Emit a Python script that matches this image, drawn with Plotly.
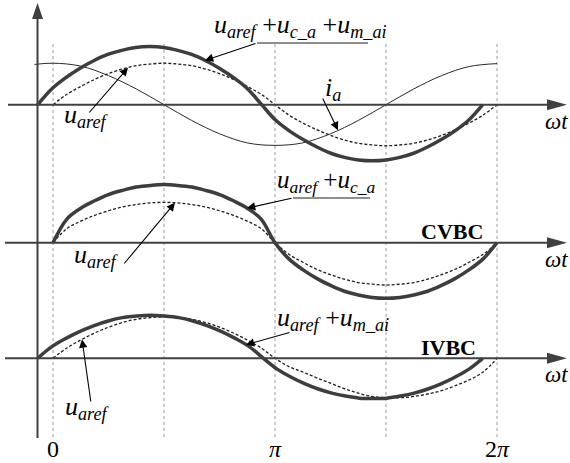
import numpy as np
import plotly.graph_objects as go

W, H = 570, 463

# ---------------- waveform data (angle in degrees, value in p.u. of the u_aref peak) ----------------
FULL_DEG = [0, 11.25, 22.5, 33.75, 45, 56.25, 67.5, 78.75, 90, 101.25, 112.5, 123.75, 135, 146.25, 157.5, 168.75,
            180, 191.25, 202.5, 213.75, 225, 236.25, 247.5, 258.75, 270, 281.25, 292.5, 303.75, 315, 326.25,
            337.5, 348.75, 360]

# Panel 1: u_aref + u_c_a + u_m_ai (thick), u_aref (dashed) and i_a (thin)
P1_SUM_DEG = [-12.4, -1.05, 10.3, 21.65, 33.0, 44.35, 55.7, 67.05, 78.4, 89.75, 101.1, 112.45, 123.8, 135.15,
              146.5, 157.85, 169.2, 180.4, 191.6, 202.8, 214.0, 225.2, 236.4, 247.6, 258.8, 270.0, 281.2,
              292.4, 303.6, 314.8, 326.0, 337.2, 348.4]
P1_SUM_VAL = [0, 0.38, 0.65, 0.875, 1.06, 1.21, 1.31, 1.38, 1.40, 1.38, 1.31, 1.21, 1.06, 0.875, 0.65, 0.38, 0,
              -0.37, -0.63, -0.84, -1.02, -1.17, -1.27, -1.33, -1.35, -1.33, -1.27, -1.17, -1.02, -0.84,
              -0.63, -0.37, 0]
P1_REF_DEG = FULL_DEG
P1_REF_VAL = [0, 0.25, 0.44, 0.61, 0.75, 0.86, 0.94, 0.98, 1.0, 0.98, 0.94, 0.86, 0.75, 0.61, 0.44, 0.25, 0,
              -0.25, -0.44, -0.60, -0.74, -0.85, -0.93, -0.97, -0.99, -0.97, -0.93, -0.85, -0.74, -0.60,
              -0.44, -0.25, 0]
P1_IA_DEG = [-15, 0, 22.5, 45, 67.5, 90, 112.5, 135, 157.5, 180, 202.5, 225, 247.5, 270, 292.5, 315, 337.5, 360]
P1_IA_VAL = [0.97, 1.0, 0.93, 0.70, 0.38, 0, -0.38, -0.70, -0.92, -0.98, -0.92, -0.70, -0.38, 0, 0.38, 0.70, 0.92, 0.99]

# Panel 2 (CVBC): u_aref + u_c_a (thick) and u_aref (dashed)
P2_SUM_DEG = FULL_DEG
P2_SUM_VAL = [0, 0.57, 0.83, 1.01, 1.16, 1.26, 1.34, 1.38, 1.40, 1.38, 1.34, 1.26, 1.16, 1.01, 0.83, 0.57, 0,
              -0.39, -0.65, -0.86, -1.03, -1.17, -1.26, -1.32, -1.34, -1.32, -1.26, -1.17, -1.03, -0.86,
              -0.65, -0.39, 0]
P2_REF_DEG = FULL_DEG
P2_REF_VAL = [0, 0.34, 0.52, 0.66, 0.77, 0.86, 0.92, 0.96, 0.97, 0.96, 0.92, 0.86, 0.77, 0.66, 0.52, 0.34, 0,
              -0.28, -0.47, -0.64, -0.77, -0.88, -0.96, -1.00, -1.02, -1.00, -0.96, -0.88, -0.77, -0.64,
              -0.47, -0.28, 0]

# Panel 3 (IVBC): u_aref + u_m_ai (thick) and u_aref (dashed)
P3_SUM_DEG = [-12.4, -0.96, 10.48, 21.91, 33.35, 44.79, 56.23, 67.66, 79.1, 90.54, 101.98, 113.41, 124.85,
              136.29, 147.73, 159.16, 170.6, 181.71, 192.83, 203.94, 215.05, 226.16, 237.28, 248.39, 259.5,
              270.61, 281.73, 292.84, 303.95, 315.06, 326.18, 337.29, 348.4]
P3_SUM_VAL = [0, 0.28, 0.48, 0.65, 0.79, 0.90, 0.98, 1.02, 1.04, 1.02, 0.98, 0.90, 0.79, 0.65, 0.48, 0.28, 0,
              -0.26, -0.45, -0.61, -0.74, -0.84, -0.91, -0.96, -0.97, -0.96, -0.91, -0.84, -0.74, -0.61,
              -0.45, -0.26, 0]
P3_REF_DEG = FULL_DEG
P3_REF_VAL = [0, 0.25, 0.44, 0.61, 0.75, 0.86, 0.94, 0.98, 1.0, 0.98, 0.94, 0.86, 0.75, 0.61, 0.44, 0.25, 0,
              -0.20, -0.33, -0.47, -0.60, -0.73, -0.84, -0.92, -0.95, -0.95, -0.92, -0.86, -0.78, -0.66,
              -0.52, -0.33, 0]

GRID_DEG = [0, 90, 180, 270, 360]
TICK_DEG = [0, 180, 360]
TICK_TEXT = ["0", "<i>π</i>", "2<i>π</i>"]
PANEL_TAGS = ["", "CVBC", "IVBC"]

# ---------------- geometry ----------------
X0_PX = 53.0            # column of ωt = 0
PX_PER_DEG = 444.0 / 360.0
PX_PER_PU = 41.5
BASE_PX = [104.7, 242.7, 358.3]   # panel baselines (from top)
OFFSETS = [(H - b) / PX_PER_PU for b in BASE_PX]


def dx(px):
    return (px - X0_PX) / PX_PER_DEG


def dy(py):
    return (H - py) / PX_PER_PU


SERIF = "Liberation Serif, Times New Roman, serif"
THICK = "#3d3d3d"
INK = "#1e1e1e"
AXIS = "#404040"
GRID = "#9a9a9a"

fig = go.Figure()

curves = [
    (0, P1_IA_DEG, P1_IA_VAL, dict(color="#2a2a2a", width=1.0)),
    (0, P1_REF_DEG, P1_REF_VAL, dict(color=INK, width=1.3, dash="3px,2px")),
    (0, P1_SUM_DEG, P1_SUM_VAL, dict(color=THICK, width=3.5)),
    (1, P2_REF_DEG, P2_REF_VAL, dict(color=INK, width=1.3, dash="3px,2px")),
    (1, P2_SUM_DEG, P2_SUM_VAL, dict(color=THICK, width=3.5)),
    (2, P3_REF_DEG, P3_REF_VAL, dict(color=INK, width=1.3, dash="3px,2px")),
    (2, P3_SUM_DEG, P3_SUM_VAL, dict(color=THICK, width=3.5)),
]
for k, xs, ys, line in curves:
    fig.add_trace(go.Scatter(
        x=xs, y=np.array(ys) + OFFSETS[k], mode="lines",
        line=dict(shape="spline", smoothing=1.0, **line),
        hoverinfo="skip", showlegend=False))

shapes = []
# dotted reference verticals at multiples of π/2
for g in GRID_DEG:
    shapes.append(dict(type="line", xref="x", yref="y", x0=g, x1=g, y0=dy(437), y1=dy(42),
                       line=dict(color=GRID, width=1, dash="3px,3px"), layer="below"))

# vertical axis with arrow head
VX = 37.5
shapes.append(dict(type="line", xref="x", yref="y", x0=dx(VX), x1=dx(VX), y0=dy(438), y1=dy(16),
                   line=dict(color=AXIS, width=2)))
shapes.append(dict(type="path", xref="x", yref="y", fillcolor=AXIS, line=dict(width=0),
                   path=f"M {dx(VX)},{dy(3)} L {dx(VX - 5.5)},{dy(19)} L {dx(VX + 5.5)},{dy(19)} Z"))

# horizontal ωt axes with arrow heads
for k, b in enumerate(BASE_PX):
    x_start = 8 if k == 0 else 5
    shapes.append(dict(type="line", xref="x", yref="y", x0=dx(x_start), x1=dx(552), y0=dy(b), y1=dy(b),
                       line=dict(color=AXIS, width=2)))
    shapes.append(dict(type="path", xref="x", yref="y", fillcolor=AXIS, line=dict(width=0),
                       path=f"M {dx(567)},{dy(b)} L {dx(547)},{dy(b - 5.5)} L {dx(547)},{dy(b + 5.5)} Z"))

# underlines under the sum labels
for (x1, x2, y) in [(257, 368, 43), (293, 370, 198)]:
    shapes.append(dict(type="line", xref="x", yref="y", x0=dx(x1), x1=dx(x2), y0=dy(y), y1=dy(y),
                       line=dict(color=INK, width=1.2)))

annotations = []


def text(s, x_px, base_px, size, anchor="left", bold=False):
    annotations.append(dict(
        text=f"<b>{s}</b>" if bold else s, x=dx(x_px), y=dy(base_px - 0.33 * size),
        xref="x", yref="y", xanchor=anchor, yanchor="middle", showarrow=False,
        font=dict(family=SERIF, size=size, color="black")))


def pointer(tail_px, k, xs, ys, tip_deg):
    tip_y = float(np.interp(tip_deg, xs, ys)) + OFFSETS[k]
    annotations.append(dict(
        text="", x=tip_deg, y=tip_y, xref="x", yref="y",
        ax=dx(tail_px[0]), ay=dy(tail_px[1]), axref="x", ayref="y",
        showarrow=True, arrowhead=2, arrowsize=1.5, arrowwidth=1.1, arrowcolor="black", standoff=0))


U = "<i>u</i>"
text(f"{U}<sub><i>aref</i></sub> +{U}<sub><i>c_a</i></sub> +{U}<sub><i>m_ai</i></sub>", 212, 35, 26)
text(f"{U}<sub><i>aref</i></sub>", 62, 125, 26)
text("<i>i</i><sub><i>a</i></sub>", 323, 98, 26)
text(f"{U}<sub><i>aref</i></sub> +{U}<sub><i>c_a</i></sub>", 275, 190, 25)
text(f"{U}<sub><i>aref</i></sub>", 72, 265, 26)
text(f"{U}<sub><i>aref</i></sub> +{U}<sub><i>m_ai</i></sub>", 275, 328, 26)
text(f"{U}<sub><i>aref</i></sub>", 63, 417, 26)

for k, b in enumerate(BASE_PX):
    text("<i>ωt</i>", 570, b + 24, 23, anchor="right")
    if PANEL_TAGS[k]:
        text(PANEL_TAGS[k], 419, b - 4, 22, bold=True)

for deg, lab in zip(TICK_DEG, TICK_TEXT):
    text(lab, X0_PX + deg * PX_PER_DEG, 457, 24, anchor="center")

pointer((257, 43), 0, P1_SUM_DEG, P1_SUM_VAL, dx(205))
pointer((88, 114), 0, P1_REF_DEG, P1_REF_VAL, dx(128))
pointer((322, 97), 0, P1_IA_DEG, P1_IA_VAL, dx(338))
pointer((293, 198), 1, P2_SUM_DEG, P2_SUM_VAL, dx(247))
pointer((123, 265), 1, P2_REF_DEG, P2_REF_VAL, dx(175))
pointer((291, 332), 2, P3_SUM_DEG, P3_SUM_VAL, dx(246))
pointer((91, 403), 2, P3_REF_DEG, P3_REF_VAL, dx(82))

fig.update_layout(
    width=W, height=H, margin=dict(l=0, r=0, t=0, b=0),
    paper_bgcolor="white", plot_bgcolor="white", showlegend=False,
    xaxis=dict(range=[dx(0), dx(W)], visible=False, fixedrange=True),
    yaxis=dict(range=[dy(H), dy(0)], visible=False, fixedrange=True),
    shapes=shapes, annotations=annotations,
)

fig.write_html("out.html")
